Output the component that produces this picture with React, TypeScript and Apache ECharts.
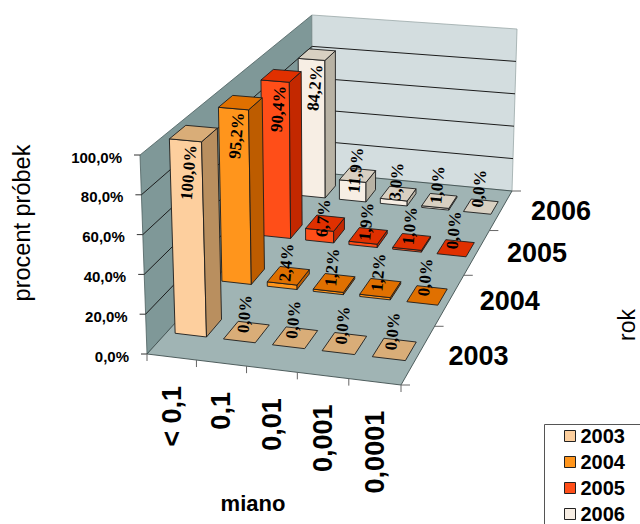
import React, { useEffect, useRef } from "react";
import * as echarts from "echarts";

const CATEGORIES = ["< 0,1", "0,1", "0,01", "0,001", "0,0001"];
const YEARS = ["2003", "2004", "2005", "2006"];
const VALUES_2003 = [100, 0, 0, 0, 0];
const VALUES_2004 = [95.2, 2.4, 1.2, 1.2, 0];
const VALUES_2005 = [90.4, 6.7, 1.9, 1.0, 0];
const VALUES_2006 = [84.2, 11.9, 3.0, 1.0, 0];
const VALUE_TICKS = [0, 20, 40, 60, 80, 100];

const ROWS = [VALUES_2003, VALUES_2004, VALUES_2005, VALUES_2006];
const FRONT = ["#FDCF9E", "#FF951C", "#FF4E18", "#F7EEE4"];
const SIDE = ["#B98F5F", "#BD5C00", "#C32800", "#B8B2A4"];
const TOP = ["#D9AD78", "#E07000", "#E03000", "#D8D0C2"];

type P = [number, number];
// Scene calibration: the plot box's corners on the page.
const FLOOR: P[] = [[147, 354], [401, 385], [512, 191], [312.5, 172]];
const CEIL: P[] = [[140, 155], [403.4, 180], [517, 29], [312, 15]];

function quad(p: P[]) {
  const [[x0, y0], [x1, y1], [x2, y2], [x3, y3]] = p;
  const dx1 = x1 - x2, dx2 = x3 - x2, sx = x0 - x1 + x2 - x3;
  const dy1 = y1 - y2, dy2 = y3 - y2, sy = y0 - y1 + y2 - y3;
  const den = dx1 * dy2 - dx2 * dy1;
  const g = (sx * dy2 - dx2 * sy) / den;
  const h = (dx1 * sy - sx * dy1) / den;
  const a = x1 - x0 + g * x1, b = x3 - x0 + h * x3;
  const d = y1 - y0 + g * y1, e = y3 - y0 + h * y3;
  return (s: number, t: number): P => {
    const w = g * s + h * t + 1;
    return [(a * s + b * t + x0) / w, (d * s + e * t + y0) / w];
  };
}
const floorMap = quad(FLOOR);
const ceilMap = quad(CEIL);
const NC = CATEGORIES.length;
const NR = YEARS.length;
// u: columns, v: rows (0 = front), h: percent
function project(u: number, v: number, h: number): P {
  const a = floorMap(u / NC, v / NR);
  const b = ceilMap(u / NC, v / NR);
  const k = h / 100;
  return [a[0] + (b[0] - a[0]) * k, a[1] + (b[1] - a[1]) * k];
}

const INK = "#1c1c1c";
const SANS = "'Liberation Sans', Arial, sans-serif";
const SERIF = "'Liberation Serif', 'Times New Roman', serif";
const HALF_W = 0.325;
const HALF_D = 0.16;
const ROW_CENTER = 0.54;

const poly = (points: P[], fill: string, stroke = INK, lineWidth = 0.9) => ({
  type: "polygon",
  shape: { points },
  style: { fill, stroke, lineWidth },
});
const line = (a: P, b: P, stroke = INK, lineWidth = 1) => ({
  type: "line",
  shape: { x1: a[0], y1: a[1], x2: b[0], y2: b[1] },
  style: { stroke, lineWidth, fill: "none" },
});
const text = (
  t: string, x: number, y: number, fontSize: number, fontWeight: string,
  align: string, rotation = 0, fontFamily = SANS,
) => ({
  type: "text",
  x, y, rotation,
  style: { text: t, fontSize, fontWeight, fontFamily, fill: "#000", align, verticalAlign: "middle" },
});

const fmt = (v: number) => v.toFixed(1).replace(".", ",") + "%";

function renderScene() {
  const wallLeft = [project(0, 0, 0), project(0, 0, 100), project(0, NR, 100), project(0, NR, 0)];
  const wallBack = [project(0, NR, 0), project(0, NR, 100), project(NC, NR, 100), project(NC, NR, 0)];
  const floor = [project(0, 0, 0), project(NC, 0, 0), project(NC, NR, 0), project(0, NR, 0)];
  const children: any[] = [
    poly(wallLeft, "#7F9898", "#4d5f5f", 0.8),
    poly(wallBack, "#D3DDDF", "#9aa8a8", 0.8),
    poly(floor, "#A0B4B4", "#3f4f4f", 0.9),
  ];
  VALUE_TICKS.forEach((t) => {
    const a = project(0, 0, t), b = project(0, NR, t), c = project(NC, NR, t);
    if (t > 0 && t < 100) {
      children.push(line(a, b));
      children.push(line(b, c));
    }
    children.push(line([a[0] - 6, a[1]], a, "#333"));
  });
  for (let i = 0; i <= NC; i++) {
    const p = project(i, 0, 0);
    children.push(line(p, [p[0], p[1] + 7], "#666"));
  }
  for (let j = 0; j <= NR; j++) {
    const p = project(NC, j, 0);
    children.push(line(p, [p[0] + 9, p[1]], "#666"));
  }
  return { type: "group", children };
}

function renderBar(row: number) {
  return (_: any, api: any) => {
    const origin = api.coord([0, 0]);
    const band = api.size([1, 0])[0];
    const c = api.coord([api.value(0), api.value(1)]);
    const u = (c[0] - origin[0]) / band + 0.5;
    const h = origin[1] - c[1];
    const v = row + ROW_CENTER;
    const x0 = u - HALF_W, x1 = u + HALF_W, y0 = v - HALF_D, y1 = v + HALF_D;
    const children: any[] = [];
    if (h > 0) {
      children.push(poly([project(x0, y0, 0), project(x1, y0, 0), project(x1, y0, h), project(x0, y0, h)], FRONT[row]));
      children.push(poly([project(x1, y0, 0), project(x1, y1, 0), project(x1, y1, h), project(x1, y0, h)], SIDE[row]));
    }
    children.push(poly([project(x0, y0, h), project(x1, y0, h), project(x1, y1, h), project(x0, y1, h)], TOP[row]));
    return { type: "group", children };
  };
}

function renderLabel(_: any, api: any) {
  const origin = api.coord([0, 0]);
  const band = api.size([1, 0])[0];
  const c = api.coord([api.value(0), api.value(1)]);
  const u = (c[0] - origin[0]) / band + 0.5;
  const h = origin[1] - c[1];
  const row = api.value(2);
  const p = project(u, row + ROW_CENTER, h);
  const tall = h > 50;
  const shift = tall ? (row === 0 ? 39 : 33) : -Math.max(5, 18 - 2 * h);
  const dx = tall ? 2 + (3 - row) : 2;
  return text(fmt(h), p[0] - dx, p[1] + shift, 17, "bold", "center", (85 * Math.PI) / 180, SERIF);
}

function renderAxisText() {
  const children: any[] = [];
  VALUE_TICKS.forEach((t) => {
    const p = project(0, 0, t);
    children.push(text(fmt(t), p[0] - 18, p[1] + 2, 15, "bold", "right"));
  });
  CATEGORIES.forEach((name, i) => {
    const p = project(i + 0.5, 0, 0);
    children.push(text(name, p[0], p[1] + 29, 27, "bold", "right", Math.PI / 2));
  });
  YEARS.forEach((name, j) => {
    const p = project(NC, j + 0.5, 0);
    children.push(text(name, p[0] + 30, p[1] + 1, 27, "bold", "left"));
  });
  children.push(text("procent próbek", 22, 223, 23.5, "normal", "center", Math.PI / 2));
  children.push(text("rok", 627, 325, 23, "normal", "center", Math.PI / 2));
  children.push(text("miano", 253, 503, 22, "bold", "center"));
  return { type: "group", children };
}

export default function App() {
  const ref = useRef<HTMLDivElement>(null);
  useEffect(() => {
    document.body.style.margin = "0";
    const chart = echarts.init(ref.current!, undefined, { renderer: "svg" });
    const barSeries = [3, 2, 1, 0].map((row) => ({
      type: "custom",
      name: YEARS[row],
      itemStyle: { color: FRONT[row] },
      silent: true,
      z: 3,
      renderItem: renderBar(row),
      data: ROWS[row].map((v, i) => [i, v]),
    }));
    const labelData = ROWS.flatMap((vals, row) => vals.map((v, i) => [i, v, row]));
    chart.setOption({
      animation: false,
      backgroundColor: "#fff",
      // Hidden unit scales: one band per class, 0-100 %, fed to the 3D projection.
      grid: { left: 0, top: 0, width: 100, height: 100, show: false },
      xAxis: { type: "category", data: CATEGORIES, show: false },
      yAxis: { type: "value", min: 0, max: 100, show: false },
      legend: {
        data: YEARS,
        orient: "vertical",
        left: 564,
        top: 426,
        height: 98,
        padding: 0,
        itemWidth: 11,
        itemHeight: 11,
        itemGap: 6,
        icon: "rect",
        selectedMode: false,
        itemStyle: { borderColor: "#222", borderWidth: 1 },
        textStyle: { fontFamily: SANS, fontSize: 20, fontWeight: "bold", color: "#000", lineHeight: 20, padding: 0 },
      },
      graphic: [
        { type: "rect", z: 1, shape: { x: 544.5, y: 424.5, width: 120, height: 120 }, style: { fill: "#fff", stroke: "#555", lineWidth: 1 } },
      ],
      series: [
        { type: "custom", silent: true, z: 2, renderItem: renderScene, data: [[0, 0]] },
        ...barSeries,
        { type: "custom", silent: true, z: 4, renderItem: renderLabel, data: labelData },
        { type: "custom", silent: true, z: 5, renderItem: renderAxisText, data: [[0, 0]] },
      ],
    });
    return () => chart.dispose();
  }, []);
  return <div ref={ref} style={{ position: "absolute", left: 0, top: 0, width: 640, height: 524 }} />;
}
